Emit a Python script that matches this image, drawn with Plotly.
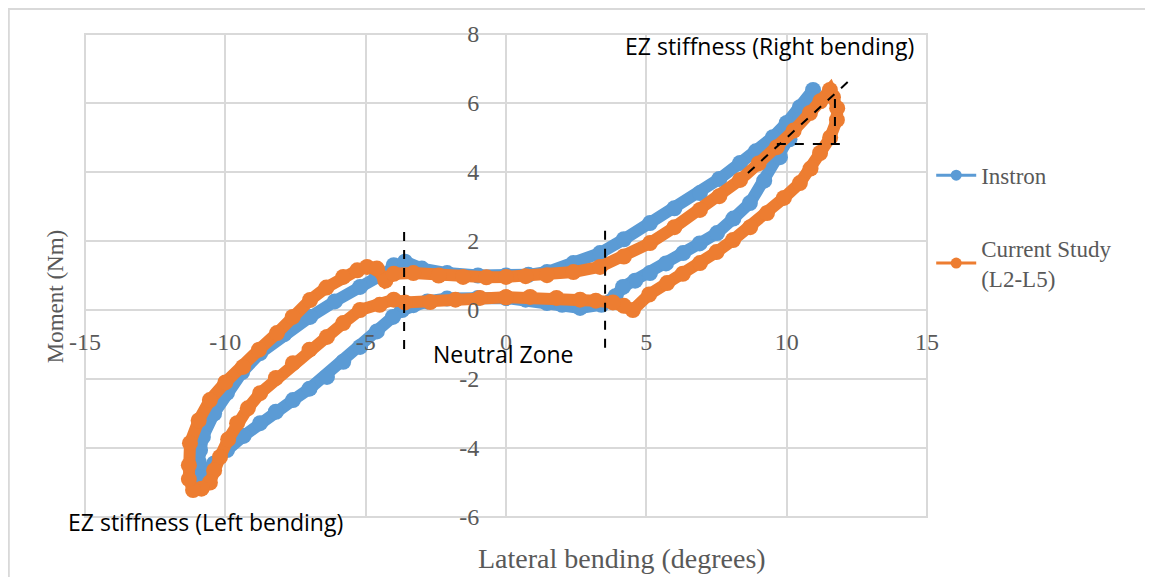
import plotly.graph_objects as go

# ---- data ----
instron_x = [0, -1, -2.1, -2.8, -3.3, -3.7, -4.03, -4.6, -5.2, -5.8, -6.38, -7.0, -7.59, -8.2, -8.76,
             -9.35, -9.94, -10.4, -10.9, -10.95, -10.9, -10.8, -10.4, -9.94, -9.4, -8.76, -7.9, -6.98,
             -6.1, -5.2, -4.6, -4.0, -3.6, -3.0, -2.1, -1, 0, 0.8, 1.46, 2.4, 3.35, 4.2, 5.13, 6.0,
             6.91, 7.6, 8.34, 8.9, 9.51, 10.0, 10.47, 10.94, 10.9, 10.47, 10.1, 9.76, 9.2, 8.69, 8.1,
             7.52, 6.9, 6.31, 5.7, 5.13, 4.6, 4.17, 3.9, 3.4, 2.64, 2.0, 1.46, 0.7, 0]
instron_y = [0.35, 0.35, 0.33, 0.25, 0.14, 0.0, -0.2, -0.62, -1.07, -1.5, -1.94, -2.28, -2.61, -2.95, -3.28,
             -3.65, -4.06, -4.45, -4.84, -4.4, -4.06, -3.68, -3.0, -2.4, -1.8, -1.25, -0.7, -0.2,
             0.25, 0.67, 1.0, 1.3, 1.4, 1.2, 1.07, 1.0, 1.0, 1.02, 1.1, 1.36, 1.65, 2.05, 2.52, 2.95,
             3.39, 3.8, 4.26, 4.6, 5.01, 5.42, 5.88, 6.38, 6.1, 5.51, 4.95, 4.43, 3.75, 3.10, 2.65,
             2.23, 1.93, 1.65, 1.35, 1.07, 0.85, 0.67, 0.4, 0.15, 0.06, 0.15, 0.2, 0.3, 0.35]

study_x = [0, -0.93, -1.8, -2.7, -3.6, -4.0, -4.5, -5.2, -5.8, -6.38, -7.0, -7.59, -8.2, -8.76, -9.2,
           -9.58, -9.9, -10.19, -10.4, -10.55, -10.85, -11.15, -11.3, -11.3, -11.26, -10.95, -10.55,
           -10.0, -9.37, -8.8, -8.16, -7.6, -6.98, -6.4, -5.8, -5.3, -4.95, -4.6, -4.3, -4.0, -3.3,
           -2.4, -1.53, -0.7, 0, 0.7, 1.46, 2.4, 3.35, 4.2, 5.13, 6.0, 6.91, 7.6, 8.34, 9.0, 9.65,
           10.25, 10.83, 11.2, 11.54, 11.65, 11.8, 11.79, 11.55, 11.19, 10.85, 10.47, 9.9, 9.3, 8.7,
           8.09, 7.5, 6.91, 6.3, 5.74, 5.1, 4.52, 4.2, 3.81, 3.2, 2.64, 1.8, 0.86, 0]
study_y = [0.37, 0.35, 0.3, 0.23, 0.22, 0.3, 0.15, 0.0, -0.38, -0.78, -1.15, -1.54, -1.97, -2.41, -2.85,
           -3.28, -3.75, -4.26, -4.65, -5.0, -5.18, -5.22, -4.9, -4.5, -3.86, -3.2, -2.61,
           -2.1, -1.65, -1.15, -0.67, -0.2, 0.29, 0.65, 0.96, 1.15, 1.25, 1.2, 0.85, 1.05, 1.07,
           1.0, 0.96, 0.95, 0.96, 0.98, 1.01, 1.1, 1.25, 1.55, 1.94, 2.4, 2.9, 3.3, 3.77, 4.25, 4.72,
           5.2, 5.71, 6.05, 6.38, 6.17, 5.85, 5.51, 5.0, 4.55, 4.1, 3.68, 3.25, 2.81, 2.4,
           2.03, 1.68, 1.36, 1.05, 0.78, 0.45, 0.0, 0.12, 0.22, 0.27, 0.3, 0.35, 0.38, 0.37]

x_ticks = [-15, -10, -5, 0, 5, 10, 15]
y_ticks = [-6, -4, -2, 0, 2, 4, 6, 8]

# neutral-zone and stiffness guide lines (data coordinates)
nz_left = [[-3.63, -3.63], [2.26, -1.36]]
nz_right = [[3.53, 3.53], [2.30, -1.16]]
ez_diag = [[8.62, 12.26], [3.97, 6.67]]
ez_horz = [[9.65, 12.0], [4.81, 4.81]]
ez_vert = [[11.72, 11.72], [4.81, 6.38]]

BLUE = "#5B9BD5"
ORANGE = "#ED7D31"
GRID = "#d9d9d9"
TXT = "#595959"

fig = go.Figure()

for xs, ys, col in [(instron_x, instron_y, BLUE), (study_x, study_y, ORANGE)]:
    fig.add_trace(go.Scatter(x=xs, y=ys, mode="lines+markers",
                             line=dict(color=col, width=12),
                             marker=dict(color=col, size=16),
                             showlegend=False, hoverinfo="skip"))

for seg in [nz_left, nz_right, ez_diag, ez_horz, ez_vert]:
    fig.add_trace(go.Scatter(x=seg[0], y=seg[1], mode="lines",
                             line=dict(color="black", width=2, dash="dash"),
                             showlegend=False, hoverinfo="skip"))

# legend entries
fig.add_trace(go.Scatter(x=[None], y=[None], mode="lines+markers", name="Instron",
                         line=dict(color=BLUE, width=3), marker=dict(color=BLUE, size=11),
                         legendgroup="a"))
fig.add_trace(go.Scatter(x=[None], y=[None], mode="lines+markers", name="Current Study<br>(L2-L5)",
                         line=dict(color=ORANGE, width=3), marker=dict(color=ORANGE, size=11),
                         legendgroup="b"))

tickfont = dict(family="Liberation Serif", size=24, color=TXT)

# the page body adds an 8px offset, so the figure is sized to end at the window edge
fig.update_layout(
    width=1145, height=569,
    margin=dict(l=77, r=226, t=26, b=60, autoexpand=False),
    paper_bgcolor="white", plot_bgcolor="white",
    xaxis=dict(range=[-15, 15], tickvals=x_ticks, ticktext=[str(v) for v in x_ticks],
               showgrid=True, gridcolor=GRID, gridwidth=2, zeroline=False, showline=False,
               anchor="free", position=6 / 14, ticks="outside", ticklen=10, automargin=False,
               tickcolor="rgba(0,0,0,0)", tickfont=tickfont),
    yaxis=dict(range=[-6, 8], tickvals=y_ticks, ticktext=[str(v) for v in y_ticks],
               showgrid=True, gridcolor=GRID, gridwidth=2, zeroline=False, showline=False,
               anchor="free", position=0.5, ticks="outside", ticklen=22, automargin=False,
               tickcolor="rgba(0,0,0,0)", tickfont=tickfont),
    legend=dict(x=1.005, xanchor="left", y=0.752, yanchor="top",
                font=dict(family="Liberation Serif", size=23, color=TXT),
                traceorder="grouped", tracegroupgap=40, itemwidth=40),
    showlegend=True,
)

fig.add_shape(type="rect", xref="paper", yref="paper", x0=0, x1=1, y0=0, y1=1,
              line=dict(color=GRID, width=2), layer="below")
fig.add_shape(type="rect", xref="paper", yref="paper", x0=-0.0905, x1=1.266, y0=-0.2, y1=1.052,
              line=dict(color=GRID, width=2))

annfont = dict(family="Open Sans", size=23, color="black")
fig.add_annotation(text="EZ stiffness (Right bending)", x=0.8135, y=0.975, xref="paper", yref="paper",
                   xanchor="center", yanchor="middle", showarrow=False, font=annfont)
fig.add_annotation(text="Neutral Zone", x=0.4976, y=0.3375, xref="paper", yref="paper",
                   xanchor="center", yanchor="middle", showarrow=False, font=annfont)
fig.add_annotation(text="EZ stiffness (Left bending)", x=0.1437, y=-0.0104, xref="paper", yref="paper",
                   xanchor="center", yanchor="middle", showarrow=False, font=annfont)
fig.add_annotation(text="Lateral bending (degrees)", x=0.638, y=-0.085, xref="paper", yref="paper",
                   xanchor="center", yanchor="middle", showarrow=False,
                   font=dict(family="Liberation Serif", size=28, color=TXT))
fig.add_annotation(text="Moment (Nm)", x=-0.0356, y=0.457, xref="paper", yref="paper",
                   xanchor="center", yanchor="middle", textangle=-90, showarrow=False,
                   font=dict(family="Liberation Serif", size=23, color=TXT))

fig.write_html("out.html")
